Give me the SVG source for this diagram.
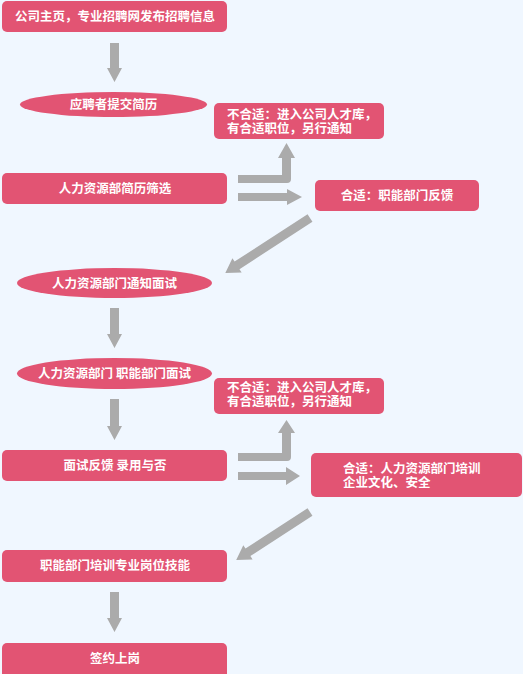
<svg xmlns="http://www.w3.org/2000/svg" width="523" height="674" viewBox="0 0 523 674">
<style>
.n{fill:#E25473}
.t{fill:#fff;font-family:"Noto Sans CJK SC","Noto Sans CJK JP",sans-serif;font-size:12.5px;font-weight:bold}
.c{text-anchor:middle}
.a{fill:#ABABAB}
</style>
<rect width="523" height="674" fill="#F0F7FF"/>
<g id="n1"><rect class="n" x="2" y="1" width="225" height="31" rx="5"/><text class="t c" x="115" y="21">公司主页，专业招聘网发布招聘信息</text></g>
<g id="n2"><ellipse class="n" cx="113.5" cy="104.5" rx="93.5" ry="12.5"/><text class="t c" x="113.5" y="109">应聘者提交简历</text></g>
<g id="n3"><rect class="n" x="214" y="103" width="170" height="36" rx="5"/><text class="t" x="227" y="119">不合适：进入公司人才库，<tspan x="227" dy="14">有合适职位，另行通知</tspan></text></g>
<g id="n4"><rect class="n" x="2" y="173" width="225" height="31" rx="5"/><text class="t c" x="115" y="193">人力资源部简历筛选</text></g>
<g id="n5"><rect class="n" x="315" y="180" width="164" height="31" rx="5"/><text class="t c" x="397" y="200">合适：职能部门反馈</text></g>
<g id="n6"><ellipse class="n" cx="114.5" cy="283" rx="97.5" ry="15"/><text class="t c" x="114.5" y="287.5">人力资源部门通知面试</text></g>
<g id="n7"><ellipse class="n" cx="114.5" cy="373.5" rx="97.5" ry="15.5"/><text class="t c" x="114.5" y="378">人力资源部门 职能部门面试</text></g>
<g id="n8"><rect class="n" x="214" y="378" width="170" height="36" rx="5"/><text class="t" x="227" y="392">不合适：进入公司人才库，<tspan x="227" dy="14">有合适职位，另行通知</tspan></text></g>
<g id="n9"><rect class="n" x="2" y="450" width="225" height="31" rx="5"/><text class="t c" x="115" y="470">面试反馈 录用与否</text></g>
<g id="n10"><rect class="n" x="311" y="453" width="211" height="44" rx="5"/><text class="t" x="343" y="473">合适：人力资源部门培训<tspan x="343" dy="14">企业文化、安全</tspan></text></g>
<g id="n11"><rect class="n" x="2" y="550" width="225" height="32" rx="5"/><text class="t c" x="115" y="570">职能部门培训专业岗位技能</text></g>
<g id="n12"><rect class="n" x="2" y="643" width="225" height="36" rx="5"/><text class="t c" x="115" y="663">签约上岗</text></g>
<g id="connectors">
<polygon class="a" points="110,43 119,43 119,68 122,68 114.5,82 107,68 110,68"/>
<polygon class="a" points="110,308 119,308 119,334 122,334 114.5,348 107,334 110,334"/>
<polygon class="a" points="110,399 119,399 119,426 122,426 114.5,440 107,426 110,426"/>
<polygon class="a" points="110,592 119,592 119,618 122,618 114.5,632 107,618 110,618"/>
<path class="a" d="M238,175 H282 V158 H278 L286.5,143 L295,158 H291 V179 Q291,183 287,183 H238 Z"/>
<polygon class="a" points="238,193 287,193 287,189 302,197 287,205 287,201 238,201"/>
<path class="a" d="M238,453 H282 V433 H278 L286.5,420 L295,433 H291 V457 Q291,461 287,461 H238 Z"/>
<polygon class="a" points="238,472 286,472 286,467 300,476 286,485 286,480 238,480"/>
<polygon class="a" transform="translate(310,218) rotate(147)" points="0,-4.5 87,-4.5 87,-8.5 101,0 87,8.5 87,4.5 0,4.5"/>
<polygon class="a" transform="translate(310,512) rotate(147)" points="0,-4.5 74,-4.5 74,-8.5 88,0 74,8.5 74,4.5 0,4.5"/>
</g>
</svg>
